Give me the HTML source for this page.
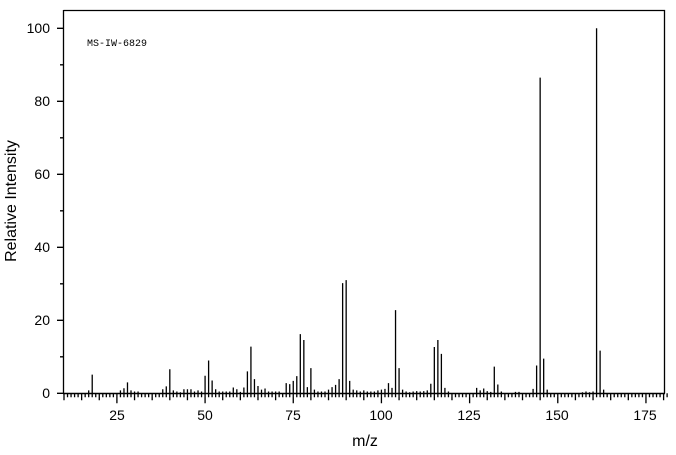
<!DOCTYPE html>
<html><head><meta charset="utf-8"><style>html,body{margin:0;padding:0;background:#fff}svg{display:block}</style></head><body>
<svg id="s" width="676" height="455" xmlns="http://www.w3.org/2000/svg" font-family="Liberation Sans, sans-serif">
<rect width="676" height="455" fill="#fff"/>
<g id="g" stroke="#000" stroke-width="1.3" fill="none"></g>
<path d="M63.5 10 V393.5 M63.5 10.5 H664.5 V393.5" stroke="#000" stroke-width="1.3" fill="none"/>
<line x1="63" y1="393.5" x2="665" y2="393.5" stroke="#000" stroke-width="1.5"/>
<g font-size="14" fill="#000" text-anchor="end">
<text x="50" y="398">0</text><text x="50" y="325">20</text><text x="50" y="252">40</text><text x="50" y="179">60</text><text x="50" y="106">80</text><text x="50" y="33">100</text>
</g>
<g font-size="14" fill="#000" text-anchor="middle">
<text x="117" y="420">25</text><text x="205" y="420">50</text><text x="293" y="420">75</text><text x="381" y="420">100</text><text x="469" y="420">125</text><text x="557" y="420">150</text><text x="645" y="420">175</text>
</g>
<text x="365" y="446" font-size="16" text-anchor="middle">m/z</text>
<text transform="translate(16,201) rotate(-90)" font-size="16" text-anchor="middle">Relative Intensity</text>
<text x="87" y="46" font-size="10" font-family="Liberation Mono, monospace">MS-IW-6829</text>
</svg>
<script>
const g=document.getElementById('g');
const X=m=>64+(m-10)*3.527, Y=v=>393.3-v*3.65;
let d='';
for(let v=0;v<=100;v+=10){const y=Y(v);d+=`M${v%20?60:57} ${y}H63.5`;}
for(let m=10;m<=181;m++){const x=X(m);const L=m%25==0?10:(m%5==0?7:4);d+=`M${x} 393.3V${393.3+L}`;}
const p={17:.8,18:5.1,26:.8,27:1.4,28:3,29:.8,30:.5,31:.5,38:1.1,39:1.9,40:6.6,41:.8,42:.5,43:.3,44:1.1,45:1.1,46:1.1,47:.5,48:.8,49:.5,50:4.8,51:9,52:3.5,53:1.1,54:.5,55:.5,56:.5,57:.5,58:1.6,59:1.1,60:.4,61:1.6,62:6,63:12.8,64:3.9,65:2,66:1,67:1.3,68:.5,69:.5,70:.5,71:.5,
73:2.8,74:2.5,75:3.4,76:4.7,77:16.2,78:14.6,79:1.7,80:6.9,81:1,82:.5,83:.5,84:.5,85:1,86:1.7,87:2.3,88:3.9,89:30.2,90:31,91:3.4,92:1,93:.8,94:.5,95:.8,96:.5,97:.5,98:.5,99:.8,100:1,101:1.2,102:2.8,103:1.5,104:22.8,105:6.9,106:1,107:.5,108:.3,109:.5,110:.6,111:.5,112:.6,113:.8,114:2.6,115:12.7,116:14.6,117:10.8,118:1.5,119:.5,
127:1.5,128:.8,129:1.3,130:.6,131:.4,132:7.3,133:2.4,134:.5,138:.4,139:.4,143:1.2,144:7.6,145:86.5,146:9.5,147:1,157:.3,158:.5,159:.3,160:.5,161:100,162:11.7,163:1};
for(const m in p){const x=X(+m);d+=`M${x} 393.3V${Y(p[m])}`;}
const path=document.createElementNS('http://www.w3.org/2000/svg','path');path.setAttribute('d',d);g.appendChild(path);
</script>
</body></html>
